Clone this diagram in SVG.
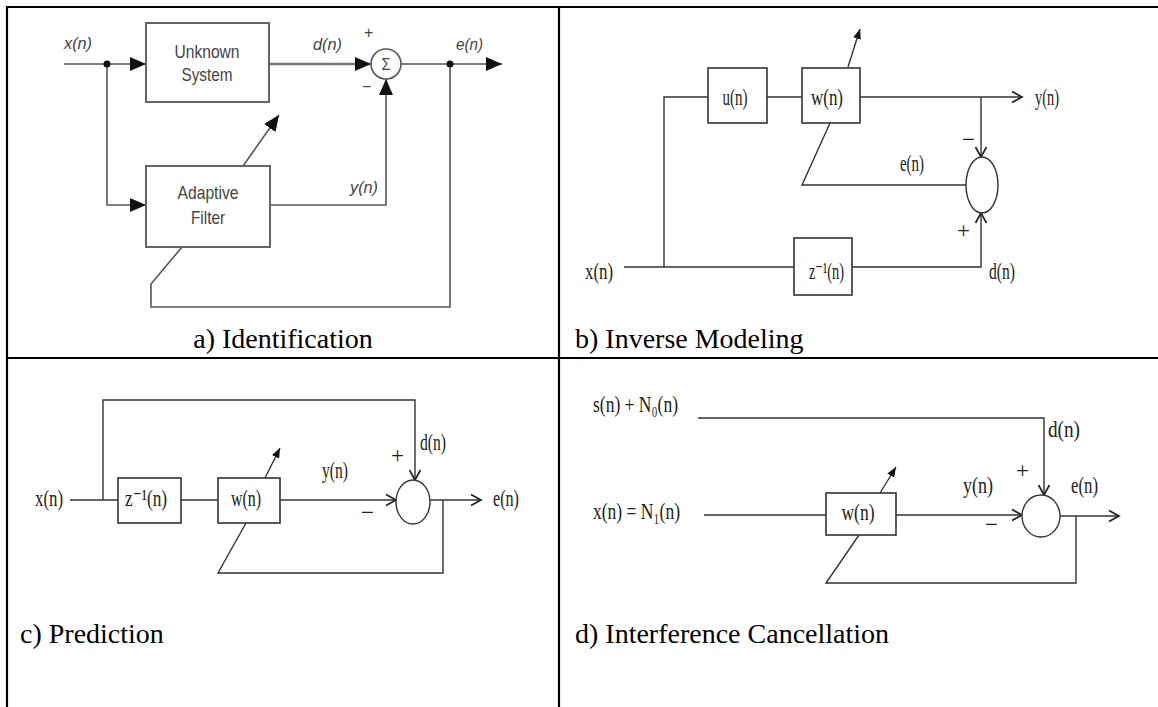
<svg xmlns="http://www.w3.org/2000/svg" width="1158" height="707" viewBox="0 0 1158 707">
<style>
.grid{stroke:#000;stroke-width:2.2;fill:none}
.la{stroke:#555;stroke-width:1.6;fill:none}
.boxa{fill:#fff;stroke:#666;stroke-width:2}
.ln{stroke:#333;stroke-width:1.4;fill:none}
.box{fill:#fff;stroke:#333;stroke-width:1.6}
.ta{font-family:"Liberation Sans",Arial,sans-serif;font-style:italic;fill:#444;font-size:16px}
.tb{font-family:"Liberation Sans",Arial,sans-serif;fill:#444;font-size:19px;text-anchor:middle}
.ts{font-family:"Liberation Serif","DejaVu Serif","Times New Roman",serif;fill:#222;font-size:23px}
.cap{font-family:"Liberation Serif","Times New Roman",serif;fill:#000;font-size:28px}
</style>
<defs>
<marker id="arA" markerUnits="userSpaceOnUse" markerWidth="16" markerHeight="14" viewBox="0 0 16 14" refX="16" refY="7" orient="auto"><path d="M0,0 L16,7 L0,14 z" fill="#111"/></marker>
<marker id="chev" markerUnits="userSpaceOnUse" markerWidth="14" markerHeight="14" viewBox="0 0 14 14" refX="12" refY="7" orient="auto"><path d="M2,1.5 L12,7 L2,12.5" fill="none" stroke="#222" stroke-width="1.7"/></marker>
<marker id="arS" markerUnits="userSpaceOnUse" markerWidth="10" markerHeight="8" viewBox="0 0 10 8" refX="10" refY="4" orient="auto"><path d="M0,0 L10,4 L0,8 z" fill="#111"/></marker>
</defs>
<rect width="1158" height="707" fill="#fff"/>
<g id="table">
<path class="grid" d="M7,7 H1158 M7,6 V707 M559,7 V707 M7,358 H1158"/>
</g>
<g id="captions">
<text class="cap" x="283" y="348" text-anchor="middle">a) Identification</text>
<text class="cap" x="575" y="348">b) Inverse Modeling</text>
<text class="cap" x="20" y="643">c) Prediction</text>
<text class="cap" x="575" y="643">d) Interference Cancellation</text>
</g>
<g id="connectors">
<path class="la" d="M64,64 H146" marker-end="url(#arA)"/>
<path class="la" d="M107,64 V205 H146" marker-end="url(#arA)"/>
<path d="M269,64 H371" stroke="#777" stroke-width="2.6" fill="none" marker-end="url(#arA)"/>
<path class="la" d="M401,64 H502" marker-end="url(#arA)"/>
<path class="la" d="M270,205 H386 V79" marker-end="url(#arA)"/>
<path class="la" d="M243,166 L279,115" marker-end="url(#arA)"/>
<path class="la" d="M450,64 V307 H151 V284 L182,247"/>
<circle cx="107" cy="64" r="3.5" fill="#111"/>
<circle cx="450" cy="64" r="3.5" fill="#111"/>
<path class="ln" d="M664,267 V97 H708 M767,97 H802"/>
<path class="ln" d="M860,97 H1022" marker-end="url(#chev)"/>
<path class="ln" d="M981,97 V157" marker-end="url(#chev)"/>
<path class="ln" d="M624,267 H794"/>
<path class="ln" d="M852,267 H981 V213" marker-end="url(#chev)"/>
<path class="ln" d="M966,185 H802 L830,123"/>
<path class="ln" d="M848,67 L860,29" marker-end="url(#arS)"/>
<path class="ln" d="M103,500 V400 H415 V480" marker-end="url(#chev)"/>
<path class="ln" d="M70,500 H118 M181,500 H218"/>
<path class="ln" d="M280,500 H396" marker-end="url(#chev)"/>
<path class="ln" d="M430,500 H481" marker-end="url(#chev)"/>
<path class="ln" d="M443,500 V573 H218 L246,523"/>
<path class="ln" d="M265,478 L280,448" marker-end="url(#arS)"/>
<path class="ln" d="M698,418 H1044 V495" marker-end="url(#chev)"/>
<path class="ln" d="M704,515 H826"/>
<path class="ln" d="M896,515 H1022" marker-end="url(#chev)"/>
<path class="ln" d="M1060,516 H1119" marker-end="url(#chev)"/>
<path class="ln" d="M1076,516 V583 H826 L859,535"/>
<path class="ln" d="M880,493 L896,467" marker-end="url(#arS)"/>
</g>
<g id="a-unknown"><rect class="boxa" x="146" y="23" width="123" height="79"/>
<text class="tb" x="207" y="58" textLength="65" lengthAdjust="spacingAndGlyphs">Unknown</text>
<text class="tb" x="207" y="81" textLength="51" lengthAdjust="spacingAndGlyphs">System</text></g>
<g id="a-adaptive"><rect class="boxa" x="146" y="166" width="124" height="81"/>
<text class="tb" x="208" y="199" textLength="61" lengthAdjust="spacingAndGlyphs">Adaptive</text>
<text class="tb" x="208" y="224" textLength="34" lengthAdjust="spacingAndGlyphs">Filter</text></g>
<g id="a-sum"><circle cx="386" cy="64" r="15" fill="#fff" stroke="#555" stroke-width="1.6"/>
<text class="tb" x="386" y="70" style="font-size:16px" textLength="9" lengthAdjust="spacingAndGlyphs">Σ</text></g>
<g id="a-labels">
<text class="ta" x="64" y="49" textLength="28" lengthAdjust="spacingAndGlyphs">x(n)</text>
<text class="ta" x="313" y="50" textLength="29" lengthAdjust="spacingAndGlyphs">d(n)</text>
<text class="ta" x="456" y="50" textLength="27" lengthAdjust="spacingAndGlyphs">e(n)</text>
<text class="ta" x="350" y="193" textLength="28" lengthAdjust="spacingAndGlyphs">y(n)</text>
<text class="ta" x="364" y="38" style="font-style:normal">+</text>
<text class="ta" x="362" y="92" style="font-style:normal">−</text>
</g>
<g id="b-u"><rect class="box" x="708" y="68" width="59" height="55"/>
<text class="ts" x="735" y="105" text-anchor="middle" textLength="25" lengthAdjust="spacingAndGlyphs">u(n)</text></g>
<g id="b-w"><rect class="box" x="802" y="68" width="58" height="55"/>
<text class="ts" x="827" y="105" text-anchor="middle" textLength="32" lengthAdjust="spacingAndGlyphs">w(n)</text></g>
<g id="b-z"><rect class="box" x="794" y="238" width="58" height="57"/>
<text class="ts" x="809" y="279" textLength="35" lengthAdjust="spacingAndGlyphs">z⁻¹(n)</text></g>
<g id="b-sum"><ellipse cx="982" cy="185" rx="16" ry="28" fill="#fff" stroke="#333" stroke-width="1.4"/></g>
<g id="b-labels">
<text class="ts" x="585" y="279" textLength="28" lengthAdjust="spacingAndGlyphs">x(n)</text>
<text class="ts" x="1035" y="105" textLength="24" lengthAdjust="spacingAndGlyphs">y(n)</text>
<text class="ts" x="900" y="171" textLength="24" lengthAdjust="spacingAndGlyphs">e(n)</text>
<text class="ts" x="989" y="279" textLength="26" lengthAdjust="spacingAndGlyphs">d(n)</text>
<text class="ts" x="962" y="147">−</text>
<text class="ts" x="957" y="238">+</text>
</g>
<g id="c-z"><rect class="box" x="118" y="478" width="63" height="45"/>
<text class="ts" x="125" y="506" textLength="42" lengthAdjust="spacingAndGlyphs">z⁻¹(n)</text></g>
<g id="c-w"><rect class="box" x="218" y="478" width="62" height="45"/>
<text class="ts" x="246" y="506" text-anchor="middle" textLength="30" lengthAdjust="spacingAndGlyphs">w(n)</text></g>
<g id="c-sum"><ellipse cx="413" cy="502" rx="17" ry="22" fill="#fff" stroke="#333" stroke-width="1.4"/></g>
<g id="c-labels">
<text class="ts" x="35" y="506" textLength="28" lengthAdjust="spacingAndGlyphs">x(n)</text>
<text class="ts" x="322" y="478" textLength="26" lengthAdjust="spacingAndGlyphs">y(n)</text>
<text class="ts" x="420" y="450" textLength="26" lengthAdjust="spacingAndGlyphs">d(n)</text>
<text class="ts" x="493" y="506" textLength="26" lengthAdjust="spacingAndGlyphs">e(n)</text>
<text class="ts" x="391" y="463">+</text>
<text class="ts" x="361" y="520">−</text>
</g>
<g id="d-w"><rect class="box" x="826" y="493" width="70" height="42"/>
<text class="ts" x="858" y="520" text-anchor="middle" textLength="33" lengthAdjust="spacingAndGlyphs">w(n)</text></g>
<g id="d-sum"><ellipse cx="1041" cy="516" rx="19" ry="21" fill="#fff" stroke="#333" stroke-width="1.4"/></g>
<g id="d-labels">
<text class="ts" x="593" y="412" textLength="85" lengthAdjust="spacingAndGlyphs">s(n) + N₀(n)</text>
<text class="ts" x="593" y="519" textLength="87" lengthAdjust="spacingAndGlyphs">x(n) = N₁(n)</text>
<text class="ts" x="963" y="493" textLength="30" lengthAdjust="spacingAndGlyphs">y(n)</text>
<text class="ts" x="1048" y="437" textLength="32" lengthAdjust="spacingAndGlyphs">d(n)</text>
<text class="ts" x="1071" y="493" textLength="27" lengthAdjust="spacingAndGlyphs">e(n)</text>
<text class="ts" x="1016" y="478">+</text>
<text class="ts" x="985" y="532">−</text>
</g>
</svg>
